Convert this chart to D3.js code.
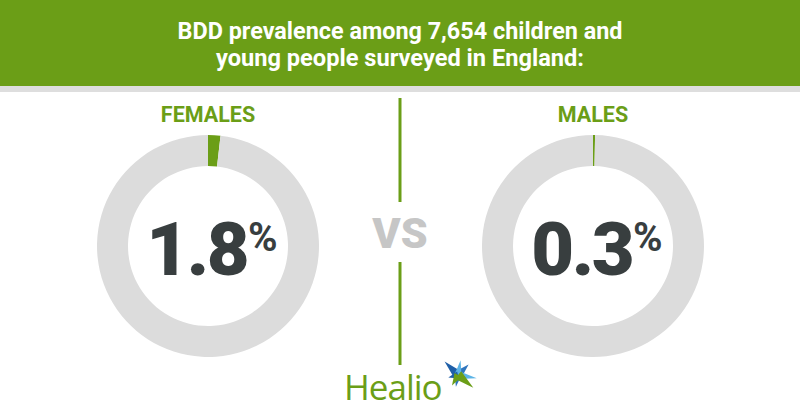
<!DOCTYPE html>
<html>
<head>
<meta charset="utf-8">
<script src="https://cdn.jsdelivr.net/npm/d3@7"></script>
<style>
  html, body { margin: 0; padding: 0; background: #fff; }
  svg { display: block; }
</style>
</head>
<body>
<svg id="chart" width="800" height="420"></svg>
<script>
// ---- data ----
const titleLines = ["BDD prevalence among 7,654 children and", "young people surveyed in England:"];
const groups = ["FEMALES", "MALES"];
const prevalence = [1.8, 0.3];       // percent
const valueLabels = ["1.8", "0.3"];
const separatorText = "VS";
const brand = "Healio";

// ---- styles ----
const GREEN = "#6b9e17";
const RING_GRAY = "#dcdcdc";
const TEXT_DARK = "#383e3f";
const VS_GRAY = "#c6c6c6";

const W = 800, H = 420;
const svg = d3.select("#chart");

// header band
svg.append("rect").attr("x", 0).attr("y", 0).attr("width", W).attr("height", 86).attr("fill", GREEN);
svg.append("rect").attr("x", 0).attr("y", 86).attr("width", W).attr("height", 6).attr("fill", "#dedede");

const titleLen = [445, 368];
svg.selectAll("text.title").data(titleLines).join("text")
  .attr("class", "title")
  .attr("x", W / 2)
  .attr("y", (d, i) => 39 + i * 27)
  .attr("text-anchor", "middle")
  .attr("textLength", (d, i) => titleLen[i])
  .attr("lengthAdjust", "spacingAndGlyphs")
  .attr("font-family", "Roboto, sans-serif")
  .attr("font-weight", 700)
  .attr("font-size", 23.5)
  .attr("fill", "#ffffff")
  .text(d => d);

// donut positions
const xScale = d3.scalePoint().domain(groups).range([208, 593]);
const cy = 246;
const outerR = 111, innerR = 80;
const pie = d3.pie().sort(null).value(d => d);
const arc = d3.arc().innerRadius(innerR).outerRadius(outerR);

groups.forEach((g, i) => {
  const cx = xScale(g);
  const gEl = svg.append("g").attr("transform", `translate(${cx},${cy})`);
  const slices = pie([prevalence[i], 100 - prevalence[i]]);
  gEl.selectAll("path").data(slices).join("path")
    .attr("d", arc)
    .attr("fill", (d, j) => j === 0 ? GREEN : RING_GRAY);

  svg.append("text")
    .attr("x", cx).attr("y", 122)
    .attr("text-anchor", "middle")
    .attr("font-family", "Roboto, sans-serif")
    .attr("font-weight", 700)
    .attr("font-size", 21.5)
    .attr("fill", GREEN)
    .text(g);

  const t = svg.append("text")
    .attr("x", cx + 4).attr("y", 275)
    .attr("text-anchor", "middle")
    .attr("font-family", "Roboto, sans-serif")
    .attr("font-weight", 900)
    .attr("font-size", 74)
    .attr("letter-spacing", -2.5)
    .attr("fill", TEXT_DARK);
  t.append("tspan").text(valueLabels[i]);
  t.append("tspan").attr("font-size", 40).attr("dy", -24).attr("dx", 1).attr("font-weight", 700).attr("letter-spacing", 0).text("%");
});

// separator
svg.append("line").attr("x1", 400).attr("x2", 400).attr("y1", 98).attr("y2", 202)
  .attr("stroke", GREEN).attr("stroke-width", 3);
svg.append("line").attr("x1", 400).attr("x2", 400).attr("y1", 262).attr("y2", 365)
  .attr("stroke", GREEN).attr("stroke-width", 3);
svg.append("text").attr("x", 400).attr("y", 248)
  .attr("text-anchor", "middle")
  .attr("font-family", "Roboto, sans-serif")
  .attr("font-weight", 900)
  .attr("font-size", 43)
  .attr("fill", VS_GRAY)
  .text(separatorText);

// brand
svg.append("text").attr("x", 344).attr("y", 400)
  .attr("font-family", "'Open Sans', sans-serif")
  .attr("font-weight", 500)
  .attr("font-size", 35)
  .attr("letter-spacing", -1)
  .attr("fill", GREEN)
  .text(brand);

// star mark (approximate logo)
const sc = [458, 375];
const ray = (angDeg, len, half, color) => {
  const a = angDeg * Math.PI / 180;
  const tip = [sc[0] + len * Math.cos(a), sc[1] + len * Math.sin(a)];
  const l = [sc[0] + half * Math.cos(a - Math.PI / 2), sc[1] + half * Math.sin(a - Math.PI / 2)];
  const r = [sc[0] + half * Math.cos(a + Math.PI / 2), sc[1] + half * Math.sin(a + Math.PI / 2)];
  svg.append("path").attr("d", d3.line()([l, tip, r]) + "Z").attr("fill", color);
};
ray(-135, 19, 5, "#1f5fa8");
ray(-45, 15, 4.5, "#2f75bd");
ray(-80, 15, 3.5, "#5cb4e6");
ray(10, 19, 4, "#5cb4e6");
ray(165, 10, 3.5, "#1f5fa8");
ray(100, 12, 3.5, "#2f75bd");
ray(40, 20, 5, GREEN);
ray(120, 12, 4, GREEN);
</script>
</body>
</html>
